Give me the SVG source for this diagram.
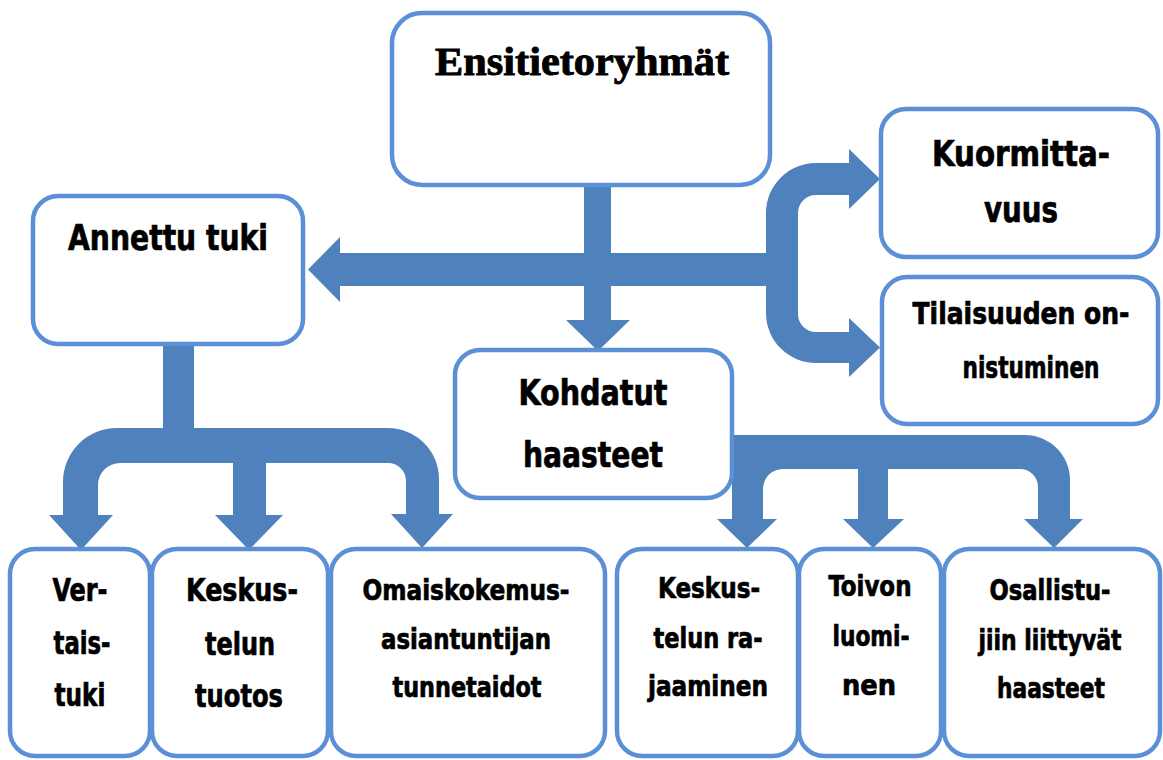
<svg xmlns="http://www.w3.org/2000/svg" width="1163" height="760" viewBox="0 0 1163 760">
<style>
.c{fill:#4f81bd;stroke:none}
.b{fill:#fff;stroke:#5b8fd6;stroke-width:4.5}
.t{font-family:'Liberation Sans Narrow','DejaVu Sans Condensed','Liberation Sans',sans-serif;font-weight:bold;fill:#000;stroke:#000;stroke-width:0.7;text-anchor:middle}
.s{font-family:'Liberation Serif','DejaVu Serif',serif;font-weight:bold;fill:#000;stroke:#000;stroke-width:0.9;text-anchor:middle}
</style>
<rect width="1163" height="760" fill="#fff"/>
<g id="connectors">
  <rect class="c" x="584" y="180" width="27" height="141"/>
  <polygon class="c" points="566,320 630,320 598,351"/>
  <rect class="c" x="339" y="253" width="430" height="33"/>
  <polygon class="c" points="340,237 340,302 308,269.5"/>
  <path class="c" d="M849,163 L816,163 A50,50 0 0 0 766,213 L766,313 A50,50 0 0 0 816,363 L849,363 L849,332 L816,332 A18,18 0 0 1 798,314 L798,213 A18,18 0 0 1 816,195 L849,195 Z"/>
  <polygon class="c" points="849,149 849,209 880,179"/>
  <polygon class="c" points="849,318 849,377 880,347.5"/>
  <rect class="c" x="163" y="340" width="31" height="92"/>
  <path class="c" d="M63,516 L63,482 A54,54 0 0 1 117,428 L388,428 A51,51 0 0 1 439,479 L439,516 L406,516 L406,481 A18,18 0 0 0 388,463 L120,463 A22,22 0 0 0 98,485 L98,516 Z"/>
  <rect class="c" x="233" y="460" width="33" height="57"/>
  <polygon class="c" points="49,515 113,515 81,550"/>
  <polygon class="c" points="215,515 283,515 249,550"/>
  <polygon class="c" points="391,514 453,514 422,548"/>
  <path class="c" d="M732,520 L732,435 L1025,435 A45,45 0 0 1 1070,480 L1070,520 L1038,520 L1038,487 A18,18 0 0 0 1020,469 L783,469 A20,20 0 0 0 763,489 L763,520 Z"/>
  <rect class="c" x="858" y="466" width="30" height="54"/>
  <polygon class="c" points="717,519 777,519 747,548"/>
  <polygon class="c" points="843,519 904,519 873,548"/>
  <polygon class="c" points="1024,519 1083,519 1054,548"/>
</g>
<g id="ensitietoryhmat">
  <rect class="b" x="392" y="13" width="378" height="172" rx="30"/>
  <text class="s" x="582" y="75" font-size="41" textLength="294" lengthAdjust="spacingAndGlyphs">Ensitietoryhmät</text>
</g>
<g id="annettu-tuki">
  <rect class="b" x="33" y="196" width="270" height="148" rx="25"/>
  <text class="t" x="168" y="250" font-size="36" textLength="200" lengthAdjust="spacingAndGlyphs">Annettu tuki</text>
</g>
<g id="kuormittavuus">
  <rect class="b" x="881" y="109" width="277" height="148" rx="25"/>
  <text class="t" x="1021" y="166" font-size="36" textLength="178" lengthAdjust="spacingAndGlyphs">Kuormitta-</text>
  <text class="t" x="1021" y="222" font-size="36" textLength="74" lengthAdjust="spacingAndGlyphs">vuus</text>
</g>
<g id="tilaisuuden-onnistuminen">
  <rect class="b" x="882" y="277" width="276" height="147" rx="25"/>
  <text class="t" x="1021" y="324" font-size="30" textLength="217" lengthAdjust="spacingAndGlyphs">Tilaisuuden on-</text>
  <text class="t" x="1031" y="378" font-size="30" textLength="137" lengthAdjust="spacingAndGlyphs">nistuminen</text>
</g>
<g id="kohdatut-haasteet">
  <rect class="b" x="455" y="350" width="277" height="148" rx="25"/>
  <text class="t" x="593" y="405" font-size="36" textLength="149" lengthAdjust="spacingAndGlyphs">Kohdatut</text>
  <text class="t" x="593" y="467" font-size="36" textLength="140" lengthAdjust="spacingAndGlyphs">haasteet</text>
</g>
<g id="vertaistuki">
  <rect class="b" x="10" y="549" width="140" height="207" rx="25"/>
  <text class="t" x="80" y="601" font-size="32" textLength="55" lengthAdjust="spacingAndGlyphs">Ver-</text>
  <text class="t" x="82" y="654" font-size="32" textLength="57" lengthAdjust="spacingAndGlyphs">tais-</text>
  <text class="t" x="80" y="706" font-size="32" textLength="51" lengthAdjust="spacingAndGlyphs">tuki</text>
</g>
<g id="keskustelun-tuotos">
  <rect class="b" x="152" y="549" width="176" height="207" rx="25"/>
  <text class="t" x="242" y="601" font-size="32" textLength="112" lengthAdjust="spacingAndGlyphs">Keskus-</text>
  <text class="t" x="240" y="655" font-size="32" textLength="70" lengthAdjust="spacingAndGlyphs">telun</text>
  <text class="t" x="239" y="707" font-size="32" textLength="88" lengthAdjust="spacingAndGlyphs">tuotos</text>
</g>
<g id="omaiskokemusasiantuntijan-tunnetaidot">
  <rect class="b" x="331" y="549" width="274" height="207" rx="25"/>
  <text class="t" x="466" y="600" font-size="28" textLength="207" lengthAdjust="spacingAndGlyphs">Omaiskokemus-</text>
  <text class="t" x="466" y="649" font-size="28" textLength="170" lengthAdjust="spacingAndGlyphs">asiantuntijan</text>
  <text class="t" x="467" y="697" font-size="28" textLength="149" lengthAdjust="spacingAndGlyphs">tunnetaidot</text>
</g>
<g id="keskustelun-rajaaminen">
  <rect class="b" x="617" y="549" width="181" height="207" rx="25"/>
  <text class="t" x="709" y="598" font-size="28" textLength="102" lengthAdjust="spacingAndGlyphs">Keskus-</text>
  <text class="t" x="708" y="648" font-size="28" textLength="109" lengthAdjust="spacingAndGlyphs">telun ra-</text>
  <text class="t" x="708" y="696" font-size="28" textLength="120" lengthAdjust="spacingAndGlyphs">jaaminen</text>
</g>
<g id="toivon-luominen">
  <rect class="b" x="799" y="549" width="142" height="207" rx="25"/>
  <text class="t" x="870" y="596" font-size="28" textLength="83" lengthAdjust="spacingAndGlyphs">Toivon</text>
  <text class="t" x="871" y="646" font-size="28" textLength="77" lengthAdjust="spacingAndGlyphs">luomi-</text>
  <text class="t" x="869" y="695" font-size="28" textLength="54" lengthAdjust="spacingAndGlyphs">nen</text>
</g>
<g id="osallistujiin-liittyvat-haasteet">
  <rect class="b" x="944" y="549" width="216" height="207" rx="25"/>
  <text class="t" x="1050" y="600" font-size="28" textLength="121" lengthAdjust="spacingAndGlyphs">Osallistu-</text>
  <text class="t" x="1050" y="650" font-size="28" textLength="143" lengthAdjust="spacingAndGlyphs">jiin liittyvät</text>
  <text class="t" x="1051" y="698" font-size="28" textLength="108" lengthAdjust="spacingAndGlyphs">haasteet</text>
</g>
</svg>
